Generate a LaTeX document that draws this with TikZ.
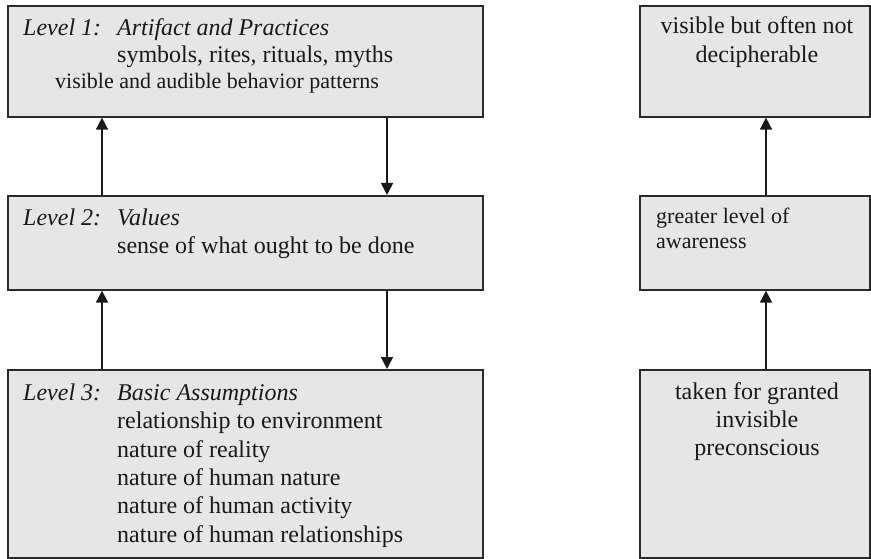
\documentclass[tikz,border=0pt]{standalone}
\usepackage{fontspec}
\setmainfont{Liberation Serif}
\usetikzlibrary{arrows.meta}
\definecolor{boxfill}{HTML}{E6E6E6}
\definecolor{boxline}{HTML}{2A2A2A}
\tikzset{
  box/.style={draw=boxline, line width=1.6pt, fill=boxfill, rectangle, anchor=north west, inner sep=0pt},
  txt/.style={anchor=base west, inner sep=0pt, font=\fontsize{24}{28}\selectfont, text=black!90},
  ctxt/.style={anchor=base, inner sep=0pt, font=\fontsize{24}{28}\selectfont, text=black!90},
  smalltxt/.style={anchor=base west, inner sep=0pt, font=\fontsize{22}{26}\selectfont, text=black!90},
  flow/.style={draw=black!90, line width=1.6pt, -{Triangle[length=12pt,width=12pt]}}
}
\begin{document}
\begin{tikzpicture}[x=1pt,y=-1pt]
\useasboundingbox (0,0) rectangle (871,559);

% left column: the three levels
\node[box, minimum width=475pt, minimum height=111pt] (l1) at (7,5) {};
\node[box, minimum width=475pt, minimum height=94pt]  (l2) at (7,195) {};
\node[box, minimum width=475pt, minimum height=188pt] (l3) at (7,369) {};

% right column: degree of visibility
\node[box, minimum width=230pt, minimum height=111pt] (r1) at (639,5) {};
\node[box, minimum width=230pt, minimum height=94pt]  (r2) at (639,195) {};
\node[box, minimum width=230pt, minimum height=188pt] (r3) at (639,369) {};

% level 1 text
\node[txt] (l1a) at (23,35.5)  {\itshape Level 1:};
\node[txt] (l1b) at (117,35.5) {\itshape Artifact and Practices};
\node[txt] (l1c) at (117,63) {symbols, rites, rituals, myths};
\node[smalltxt] (l1d) at (55,89) {visible and audible behavior patterns};

% level 2 text
\node[txt] (l2a) at (23,225.5)  {\itshape Level 2:};
\node[txt] (l2b) at (117,225.5) {\itshape Values};
\node[txt] (l2c) at (117,253) {sense of what ought to be done};

% level 3 text
\node[txt] (l3a) at (23,400)  {\itshape Level 3:};
\node[txt] (l3b) at (117,400) {\itshape Basic Assumptions};
\node[txt] (l3c) at (117,428) {relationship to environment};
\node[txt] (l3d) at (117,457) {nature of reality};
\node[txt] (l3e) at (117,485) {nature of human nature};
\node[txt] (l3f) at (117,513) {nature of human activity};
\node[txt] (l3g) at (117,542) {nature of human relationships};

% right column text
\node[ctxt] (r1a) at (757,34) {visible but often not};
\node[ctxt] (r1b) at (757,63) {decipherable};
\node[smalltxt] (r2a) at (656,223) {greater level of};
\node[smalltxt] (r2b) at (656,248) {awareness};
\node[ctxt] (r3a) at (757,399) {taken for granted};
\node[ctxt] (r3b) at (757,427) {invisible};
\node[ctxt] (r3c) at (757,455) {preconscious};

% connectors between the levels
\coordinate (up) at (102,0);
\coordinate (down) at (387,0);
\coordinate (rup) at (766,0);
\draw[flow] (l2.north -| up) -- (l1.south -| up);
\draw[flow] (l1.south -| down) -- (l2.north -| down);
\draw[flow] (l3.north -| up) -- (l2.south -| up);
\draw[flow] (l2.south -| down) -- (l3.north -| down);
\draw[flow] (r2.north -| rup) -- (r1.south -| rup);
\draw[flow] (r3.north -| rup) -- (r2.south -| rup);
\end{tikzpicture}
\end{document}
